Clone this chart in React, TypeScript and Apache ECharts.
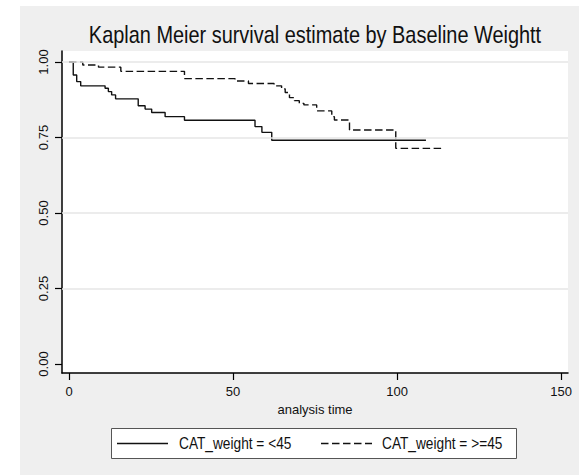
import React, { useEffect, useRef } from "react";
import * as echarts from "echarts";

// Kaplan–Meier step estimates, weight < 45
const TIME_LT45 = [0, 1.3, 2.35, 3.57, 11.0, 12.0, 13.0, 14.2, 21.1, 23.2, 25.2, 29.3, 35.2, 56.7, 58.8, 61.8, 108.8];
const SURV_LT45 = [1, 0.957, 0.935, 0.921, 0.913, 0.902, 0.891, 0.878, 0.855, 0.844, 0.833, 0.819, 0.807, 0.786, 0.767, 0.741, 0.741];

// Kaplan–Meier step estimates, weight >= 45
const TIME_GE45 = [0, 4.2, 9.0, 15.8, 35.2, 50.6, 54.7, 62.5, 64.8, 65.9, 67.2, 68.7, 70.2, 71.6, 75.5, 80.1, 80.9, 85.5, 99.6, 113.6];
const SURV_GE45 = [1, 0.99, 0.983, 0.969, 0.945, 0.937, 0.929, 0.921, 0.911, 0.899, 0.882, 0.872, 0.863, 0.858, 0.838, 0.819, 0.808, 0.775, 0.714, 0.714];

const X_TICKS = [0, 50, 100, 150];
const Y_TICKS = [0, 0.25, 0.5, 0.75, 1];
const Y_GRID = [0.25, 0.5, 0.75, 1];

const SERIES_NAMES = ["CAT_weight = <45", "CAT_weight = >=45"];
const TITLE = "Kaplan Meier survival estimate by Baseline Weightt";
const X_NAME = "analysis time";

const FONT = "'Liberation Sans', Arial, Helvetica, sans-serif";
const INK = "#111";
const DASH = [7.5, 3.5];
// horizontal squeeze for the tall, narrow heading and key lettering
const NARROW = 0.83;

const zip = (xs: number[], ys: number[]) => xs.map((x, i) => [x, ys[i]]);

export default function App() {
  const ref = useRef<HTMLDivElement>(null);

  useEffect(() => {
    if (!ref.current) return;
    const chart = echarts.init(ref.current, undefined, { renderer: "svg" });
    const legendY = 443.5;
    chart.setOption({
      animation: false,
      backgroundColor: "#efefef",
      textStyle: { fontFamily: FONT, color: INK },
      graphic: [
        // white page margin round the grey graph region
        { type: "rect", shape: { x: 0, y: 0, width: 20, height: 475 }, style: { fill: "#fff" } },
        { type: "rect", shape: { x: 0, y: 0, width: 579, height: 6 }, style: { fill: "#fff" } },
        {
          type: "text",
          x: 315,
          y: 35,
          scaleX: NARROW,
          style: {
            text: TITLE,
            align: "center",
            verticalAlign: "middle",
            fontFamily: FONT,
            fontSize: 24,
            fill: INK,
          },
        },
        // key box
        {
          type: "rect",
          shape: { x: 111.5, y: 428.5, width: 405, height: 30 },
          style: { fill: "#fff", stroke: "#555", lineWidth: 1 },
        },
        {
          type: "line",
          shape: { x1: 117, y1: legendY, x2: 168, y2: legendY },
          style: { stroke: INK, lineWidth: 1.4 },
        },
        {
          type: "text",
          x: 179,
          y: legendY,
          scaleX: NARROW,
          style: { text: SERIES_NAMES[0], verticalAlign: "middle", fontFamily: FONT, fontSize: 16.5, fill: INK },
        },
        {
          type: "line",
          shape: { x1: 321, y1: legendY, x2: 372, y2: legendY },
          style: { stroke: INK, lineWidth: 1.4, lineDash: DASH },
        },
        {
          type: "text",
          x: 382,
          y: legendY,
          scaleX: NARROW,
          style: { text: SERIES_NAMES[1], verticalAlign: "middle", fontFamily: FONT, fontSize: 16.5, fill: INK },
        },
      ],
      grid: {
        left: 62,
        top: 51,
        right: 11,
        bottom: 102,
        show: true,
        backgroundColor: "#fff",
        borderWidth: 0,
      },
      xAxis: {
        type: "value",
        min: -2.13,
        max: 152.1,
        name: X_NAME,
        nameLocation: "middle",
        nameGap: 30,
        nameTextStyle: { fontFamily: FONT, fontSize: 13, color: INK },
        axisLine: { show: true, onZero: false, lineStyle: { color: "#000", width: 1.5 } },
        axisTick: { show: true, inside: false, length: 7, customValues: X_TICKS, lineStyle: { color: "#000", width: 1.2 } },
        axisLabel: { customValues: X_TICKS, fontFamily: FONT, fontSize: 13, color: INK, margin: 12 },
        splitLine: { show: false },
      },
      yAxis: {
        type: "value",
        min: -0.0298,
        max: 1.0364,
        axisLine: { show: true, onZero: false, lineStyle: { color: "#000", width: 1.5 } },
        axisTick: { show: true, inside: false, length: 7, customValues: Y_TICKS, lineStyle: { color: "#000", width: 1.2 } },
        axisLabel: {
          customValues: Y_TICKS,
          rotate: 90,
          fontFamily: FONT,
          fontSize: 13,
          color: INK,
          margin: 12,
          formatter: (v: number) => v.toFixed(2),
        },
        splitLine: { show: false },
      },
      series: [
        {
          type: "line",
          name: "gridlines",
          data: [],
          silent: true,
          markLine: {
            silent: true,
            symbol: "none",
            label: { show: false },
            lineStyle: { color: "#e6e6e6", width: 1.5, type: "solid" },
            data: Y_GRID.map((v) => ({ yAxis: v })),
          },
        },
        {
          type: "line",
          name: SERIES_NAMES[0],
          step: "end",
          symbol: "none",
          z: 3,
          data: zip(TIME_LT45, SURV_LT45),
          lineStyle: { color: INK, width: 1.4, type: "solid" },
        },
        {
          type: "line",
          name: SERIES_NAMES[1],
          step: "end",
          symbol: "none",
          z: 3,
          data: zip(TIME_GE45, SURV_GE45),
          lineStyle: { color: INK, width: 1.4, type: DASH },
        },
      ],
    });
    return () => chart.dispose();
  }, []);

  return (
    <div
      ref={ref}
      style={{ position: "fixed", left: 0, top: 0, width: 579, height: 475 }}
    />
  );
}
